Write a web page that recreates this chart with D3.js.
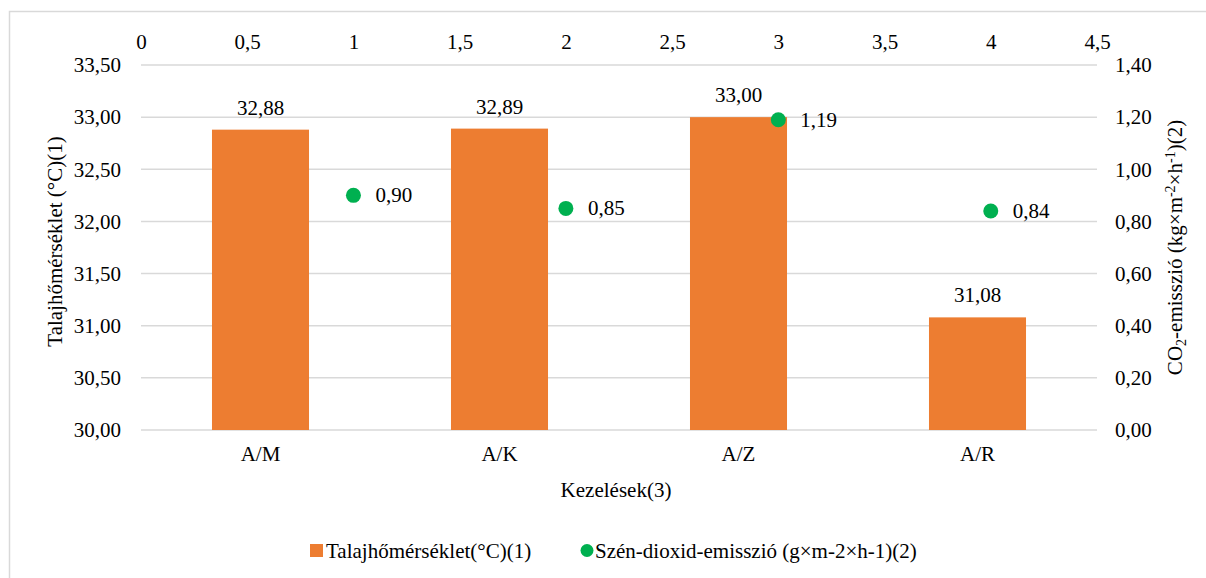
<!DOCTYPE html>
<meta charset="utf-8">
<style>

body {
  margin: 0;
  background: #fff;
}

.grid line {
  stroke: #d9d9d9;
  stroke-width: 1.5px;
}

</style>
<body>
<script src="https://d3js.org/d3.v7.min.js"></script>
<script>

// data
var categories = ["A/M", "A/K", "A/Z", "A/R"];
var soilTemp = [32.88, 32.89, 33.00, 31.08];
var co2X = [1, 2, 3, 4];
var co2 = [0.90, 0.85, 1.19, 0.84];
var topTicks = [0, 0.5, 1, 1.5, 2, 2.5, 3, 3.5, 4, 4.5];
var leftTicks = [30, 30.5, 31, 31.5, 32, 32.5, 33, 33.5];
var rightTicks = [0, 0.2, 0.4, 0.6, 0.8, 1.0, 1.2, 1.4];

var width = 1206;
var height = 578;

var plot = {left: 141, right: 1097, top: 65, bottom: 430};

var orange = "#ed7d31";
var green = "#00b050";
var font = "Liberation Serif";

var hu = d3.formatLocale({decimal: ",", thousands: " ", grouping: [3], currency: ["", " Ft"]});
var f2 = hu.format(".2f");
var fTop = hu.format("~g");

var svg = d3.select("body").append("svg")
    .attr("width", width)
    .attr("height", height);

// chart frame
svg.append("rect")
    .attr("x", 9.5)
    .attr("y", 11.5)
    .attr("width", width)
    .attr("height", height)
    .attr("fill", "none")
    .attr("stroke", "#d9d9d9")
    .attr("stroke-width", 1.5);

var xBand = d3.scaleBand()
    .domain(categories)
    .range([plot.left, plot.right])
    .paddingInner(0.594)
    .paddingOuter(0.297);

var xTop = d3.scaleLinear()
    .domain([0, 4.5])
    .range([plot.left, plot.right]);

var yLeft = d3.scaleLinear()
    .domain([30, 33.5])
    .range([plot.bottom, plot.top]);

var yRight = d3.scaleLinear()
    .domain([0, 1.4])
    .range([plot.bottom, plot.top]);

// gridlines
svg.append("g")
    .attr("class", "grid")
    .selectAll("line")
    .data(leftTicks)
    .enter()
    .append("line")
      .attr("x1", plot.left)
      .attr("x2", plot.right)
      .attr("y1", d => yLeft(d))
      .attr("y2", d => yLeft(d));

// left axis
var leftAxis = svg.append("g")
    .attr("transform", `translate(${plot.left - 17}, 0)`)
    .call(d3.axisLeft(yLeft).tickValues(leftTicks).tickFormat(f2).tickSize(0));
leftAxis.select(".domain").remove();

// right axis
var rightAxis = svg.append("g")
    .attr("transform", `translate(${plot.right + 18}, 0)`)
    .call(d3.axisRight(yRight).tickValues(rightTicks).tickFormat(f2).tickSize(0).tickPadding(0));
rightAxis.select(".domain").remove();

// top (secondary x) axis
var topAxis = svg.append("g")
    .attr("transform", `translate(0, ${plot.top - 16})`)
    .call(d3.axisTop(xTop).tickValues(topTicks).tickFormat(fTop).tickSize(0).tickPadding(0));
topAxis.select(".domain").remove();

// bottom category axis
var bottomAxis = svg.append("g")
    .attr("transform", `translate(0, ${plot.bottom})`)
    .call(d3.axisBottom(xBand).tickSize(0).tickPadding(16));
bottomAxis.select(".domain").remove();

// bars
var bars = categories.map((c, i) => ({cat: c, value: soilTemp[i]}));

svg.selectAll("rect.bar")
    .data(bars)
    .enter()
    .append("rect")
      .attr("class", "bar")
      .attr("x", d => xBand(d.cat))
      .attr("width", xBand.bandwidth())
      .attr("y", d => yLeft(d.value))
      .attr("height", d => yLeft(30) - yLeft(d.value))
      .attr("fill", orange);

svg.selectAll("text.barlabel")
    .data(bars)
    .enter()
    .append("text")
      .attr("class", "barlabel")
      .attr("x", d => xBand(d.cat) + xBand.bandwidth() / 2)
      .attr("y", d => yLeft(d.value) - 15)
      .attr("text-anchor", "middle")
      .text(d => f2(d.value));

// CO2 points
var pts = co2X.map((x, i) => ({x: x, value: co2[i]}));

svg.selectAll("circle.pt")
    .data(pts)
    .enter()
    .append("circle")
      .attr("class", "pt")
      .attr("cx", d => xTop(d.x))
      .attr("cy", d => yRight(d.value))
      .attr("r", 7.5)
      .attr("fill", green);

svg.selectAll("text.ptlabel")
    .data(pts)
    .enter()
    .append("text")
      .attr("class", "ptlabel")
      .attr("x", d => xTop(d.x) + 22)
      .attr("y", d => yRight(d.value) + 7)
      .text(d => f2(d.value));

// axis titles
svg.append("text")
    .attr("transform", `translate(62, ${(plot.top + plot.bottom) / 2 - 6}) rotate(-90)`)
    .attr("text-anchor", "middle")
    .text("Talajhőmérséklet (°C)(1)");

var rt = svg.append("text")
    .attr("transform", `translate(1182, ${(plot.top + plot.bottom) / 2}) rotate(-90)`)
    .attr("text-anchor", "middle");
rt.append("tspan").text("CO");
rt.append("tspan").attr("baseline-shift", "-25%").text("2");
rt.append("tspan").text("-emisszió (kg×m");
rt.append("tspan").attr("baseline-shift", "super").text("-2");
rt.append("tspan").text("×h");
rt.append("tspan").attr("baseline-shift", "super").text("-1");
rt.append("tspan").text(")(2)");

svg.append("text")
    .attr("x", (plot.left + plot.right) / 2 - 3)
    .attr("y", 497)
    .attr("text-anchor", "middle")
    .text("Kezelések(3)");

// legend
var legend = svg.append("g");

legend.append("rect")
    .attr("x", 310)
    .attr("y", 544)
    .attr("width", 13)
    .attr("height", 13)
    .attr("fill", orange);

legend.append("text")
    .attr("x", 326)
    .attr("y", 558)
    .text("Talajhőmérséklet(°C)(1)");

legend.append("circle")
    .attr("cx", 587)
    .attr("cy", 550.5)
    .attr("r", 6.5)
    .attr("fill", green);

legend.append("text")
    .attr("x", 595)
    .attr("y", 558)
    .text("Szén-dioxid-emisszió (g×m-2×h-1)(2)");

// one font for every text, set on the element itself
svg.selectAll("text")
    .attr("font-family", null)
    .attr("font-size", null)
    .style("font-family", font)
    .style("font-size", "21px")
    .attr("fill", "#000");
svg.selectAll("tspan[baseline-shift]")
    .style("font-size", "14px");

</script>
